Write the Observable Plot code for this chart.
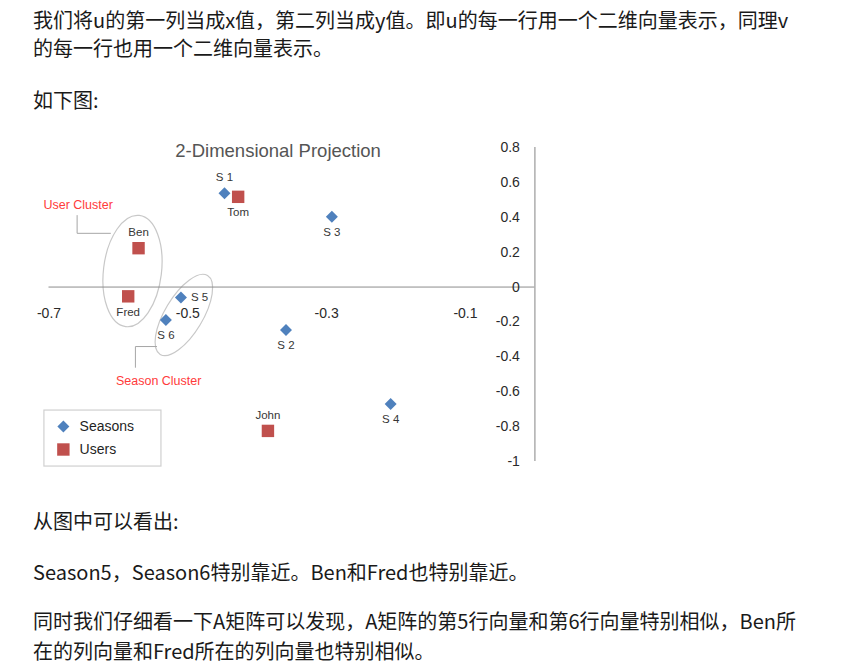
<!DOCTYPE html>
<html><head><meta charset="utf-8">
<script src="https://cdn.jsdelivr.net/npm/d3@7"></script>
<script src="https://cdn.jsdelivr.net/npm/@observablehq/plot@0.6"></script>
<style>
html,body{margin:0;padding:0;background:#fff;}
body{position:relative;width:846px;height:670px;overflow:hidden;font-family:"Noto Sans CJK SC","Noto Sans",sans-serif;color:#1a1a1a;}
.p{position:absolute;left:33px;font-size:20px;line-height:28px;white-space:nowrap;margin:0;}
#chart{position:absolute;left:0;top:130px;}
</style></head><body>
<p class="p" style="top:6px">我们将u的第一列当成x值，第二列当成y值。即u的每一行用一个二维向量表示，同理v<br>的每一行也用一个二维向量表示。</p>
<p class="p" style="top:86px">如下图:</p>
<div id="chart"></div>
<p class="p" style="top:507px">从图中可以看出:</p>
<p class="p" style="top:558px">Season5，Season6特别靠近。Ben和Fred也特别靠近。</p>
<p class="p" style="top:606px;line-height:30px">同时我们仔细看一下A矩阵可以发现，A矩阵的第5行向量和第6行向量特别相似，Ben所<br>在的列向量和Fred所在的列向量也特别相似。</p>
<script>
// ---- data ----
const seasonNames = ["S 1", "S 2", "S 3", "S 4", "S 5", "S 6"];
const seasonX = [-0.4472, -0.3586, -0.2925, -0.2078, -0.5099, -0.5316];
const seasonY = [0.5373, -0.2461, 0.4033, -0.6700, -0.0597, -0.1887];
const userNames = ["Ben", "Tom", "John", "Fred"];
const userX = [-0.5710, -0.4275, -0.3846, -0.5859];
const userY = [0.2228, 0.5172, -0.8246, -0.0532];
const xTicks = [-0.7, -0.5, -0.3, -0.1];
const yTicks = [0.8, 0.6, 0.4, 0.2, 0, -0.2, -0.4, -0.6, -0.8, -1];
const title = "2-Dimensional Projection";
const legendLabels = ["Seasons", "Users"];
const clusterLabels = ["User Cluster", "Season Cluster"];

// label placement (annotation layout)
const seasonLabelPos = ["above", "below", "below", "below", "right", "below"];
const userLabelPos = ["above", "below", "above", "below"];

const seasons = seasonNames.map((name, i) => ({name, x: seasonX[i], y: seasonY[i], pos: seasonLabelPos[i]}));
const users = userNames.map((name, i) => ({name, x: userX[i], y: userY[i], pos: userLabelPos[i]}));
const allPts = seasons.concat(users);

const BLUE = "#4f81bd", RED = "#c0504d", GRID = "#8c8c8c", TXT = "#363636";

// annotation geometry (cluster ellipses, connectors), in data units for centers
const clusters = [
  {cx: -0.579, cy: 0.089, rx: 29, ry: 56, angle: 7},
  {cx: -0.505, cy: -0.163, rx: 46, ry: 19, angle: -59}
];
const userConnector = [[-0.6595, 0.41], [-0.6595, 0.308], [-0.6115, 0.308]];
const seasonConnector = [[-0.5755, -0.46], [-0.5755, -0.341], [-0.545, -0.341]];

function ellipses(index, scales) {
  const g = d3.create("svg:g");
  for (const c of clusters) {
    g.append("ellipse")
      .attr("transform", `translate(${scales.x(c.cx)},${scales.y(c.cy)}) rotate(${c.angle})`)
      .attr("rx", c.rx).attr("ry", c.ry)
      .attr("fill", "none").attr("stroke", "#c8c8c8").attr("stroke-width", 1.2);
  }
  return g.node();
}

const labelMarks = [
  Plot.text(allPts.filter(d => d.pos === "above"), {x: "x", y: "y", text: "name", dy: -16, fontSize: 11.5, fill: TXT}),
  Plot.text(allPts.filter(d => d.pos === "below"), {x: "x", y: "y", text: "name", dy: 15.5, fontSize: 11.5, fill: TXT}),
  Plot.text(allPts.filter(d => d.pos === "right"), {x: "x", y: "y", text: "name", dx: 10, textAnchor: "start", fontSize: 11.5, fill: TXT})
];

const chart = Plot.plot({
  width: 560,
  height: 350,
  marginLeft: 48.5,
  marginRight: 25.6,
  marginTop: 17,
  marginBottom: 19,
  x: {domain: [-0.7, 0], axis: null},
  y: {domain: [-1, 0.8], axis: null},
  style: {fontFamily: "'Liberation Sans', Arial, sans-serif", fontSize: "11px", background: "transparent", overflow: "visible", color: TXT},
  marks: [
    ellipses,
    Plot.ruleY([0], {x1: -0.7, x2: 0, stroke: GRID, strokeWidth: 1}),
    Plot.ruleX([0], {y1: -1, y2: 0.8, stroke: "#a0a0a0", strokeWidth: 1.3}),
    Plot.text(xTicks, {x: d => d, y: 0, dy: 26, text: d => String(d), fontSize: 14, fill: "#2a2a2a"}),
    Plot.text(yTicks, {x: 0, y: d => d, dx: -15, textAnchor: "end", text: d => String(d), fontSize: 14, fill: "#2a2a2a"}),
    Plot.text([title], {x: -0.37, y: 0.782, text: d => d, fontSize: 18.5, fill: "#555"}),
    Plot.line(userConnector, {stroke: "#a6a6a6", strokeWidth: 1}),
    Plot.line(seasonConnector, {stroke: "#a6a6a6", strokeWidth: 1}),
    Plot.text([clusterLabels[0]], {x: -0.658, y: 0.473, text: d => d, fontSize: 12.5, fill: "#ff3b3b"}),
    Plot.text([clusterLabels[1]], {x: -0.542, y: -0.536, text: d => d, fontSize: 12.5, fill: "#ff3b3b"}),
    Plot.dot(seasons, {x: "x", y: "y", symbol: "diamond2", r: 5.4, fill: BLUE, stroke: "none"}),
    Plot.dot(users, {x: "x", y: "y", symbol: "square", r: 7, fill: RED, stroke: "none"}),
    ...labelMarks,
    // legend
    Plot.rect([0], {x1: -0.7066, x2: -0.538, y1: -0.708, y2: -1.029, fill: "white", stroke: "#d0d0d0", strokeWidth: 1.2}),
    Plot.dot([legendLabels[0]], {x: -0.6793, y: -0.7994, symbol: "diamond2", r: 5.4, fill: BLUE, stroke: "none"}),
    Plot.dot([legendLabels[1]], {x: -0.6793, y: -0.9312, symbol: "square", r: 7, fill: RED, stroke: "none"}),
    Plot.text([legendLabels[0]], {x: -0.6559, y: -0.7994, text: d => d, textAnchor: "start", fontSize: 14, fill: "#1f1f1f"}),
    Plot.text([legendLabels[1]], {x: -0.6559, y: -0.9312, text: d => d, textAnchor: "start", fontSize: 14, fill: "#1f1f1f"})
  ]
});
document.getElementById("chart").appendChild(chart);
</script>
</body></html>
